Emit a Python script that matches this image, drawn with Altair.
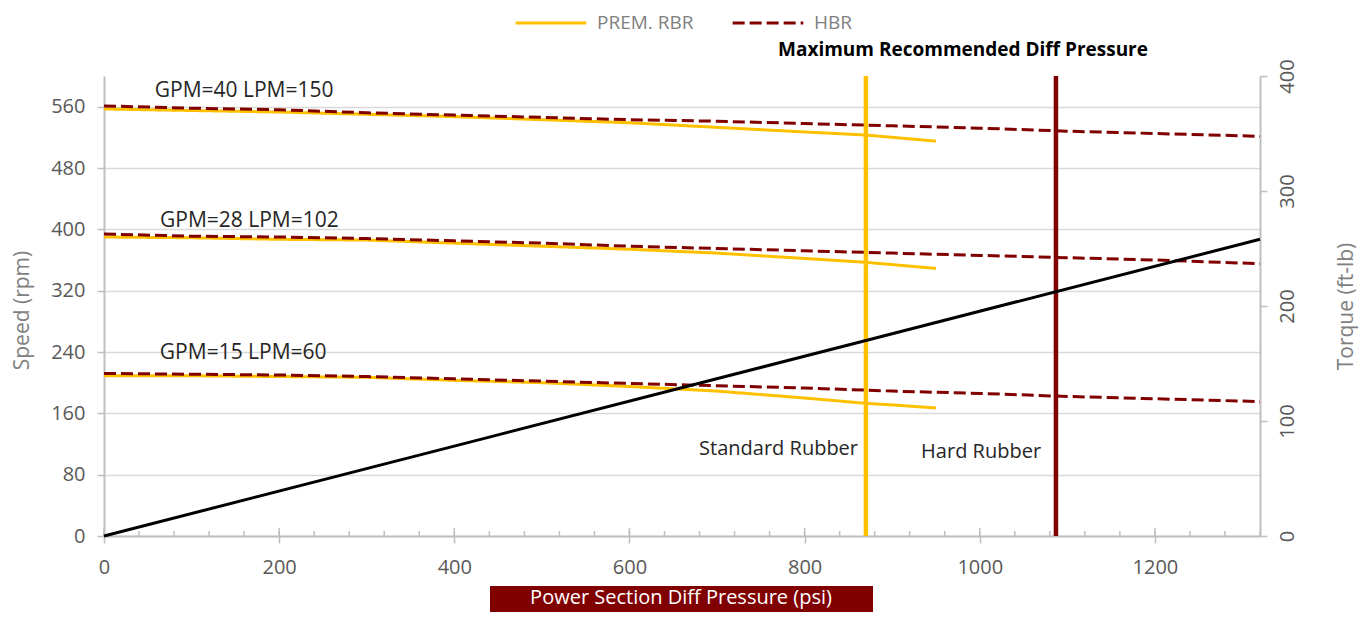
import altair as alt
import pandas as pd

# ---------------- data ----------------
x_ticks = [0, 200, 400, 600, 800, 1000, 1200]
speed_ticks = [0, 80, 160, 240, 320, 400, 480, 560]
torque_ticks = [0, 100, 200, 300, 400]
minor_ticks = list(range(0, 1321, 40))

pressure_hbr = [0, 100, 200, 300, 400, 500, 600, 700, 800, 900, 1000, 1100, 1200, 1300, 1320]
hbr_40 = [561, 558, 556, 552, 549, 546, 543, 541, 538, 535, 532, 528, 525, 522, 521]
hbr_28 = [394, 391, 390, 388, 385, 382, 378, 375, 372, 369, 366, 363, 360, 356, 355]
hbr_15 = [212, 211, 210, 208, 205, 202, 199, 196, 193, 189, 186, 182, 179, 176, 175]

pressure_prem = [0, 100, 200, 300, 400, 500, 600, 700, 800, 870, 900, 950]
prem_40 = [557, 555, 553, 550, 547, 543, 539, 533, 527, 523, 520, 515]
prem_28 = [390, 389, 387, 386, 382, 378, 374, 369, 362, 357, 354, 349]
prem_15 = [209, 209, 208, 207, 203, 200, 195, 189, 180, 173, 171, 167]

pressure_torque = [0, 440, 880, 1320]
torque_vals = [0, 86, 172, 258]

flow_labels = ["GPM=40 LPM=150", "GPM=28 LPM=102", "GPM=15 LPM=60"]
flow_label_x = [160, 166, 159]
flow_label_y = [580, 411, 239]

max_standard = 870
max_hard = 1087
rubber_labels = ["Standard Rubber", "Hard Rubber"]
rubber_label_x = [861, 1070]
rubber_label_y = [113, 110]

series_names = ["PREM. RBR", "HBR"]

# ---------------- tables ----------------
rows = []
for flow, vals in zip(flow_labels, [prem_40, prem_28, prem_15]):
    for p, s in zip(pressure_prem, vals):
        rows.append({"pressure": p, "speed": s, "type": "PREM. RBR", "flow": flow})
for flow, vals in zip(flow_labels, [hbr_40, hbr_28, hbr_15]):
    for p, s in zip(pressure_hbr, vals):
        rows.append({"pressure": p, "speed": s, "type": "HBR", "flow": flow})
curves_df = pd.DataFrame(rows)

torque_df = pd.DataFrame({"pressure": pressure_torque, "torque": torque_vals})
flow_df = pd.DataFrame({"pressure": flow_label_x, "speed": flow_label_y, "label": flow_labels})
rubber_df = pd.DataFrame({"pressure": rubber_label_x, "speed": rubber_label_y, "label": rubber_labels})
minor_df = pd.DataFrame({"pressure": minor_ticks})
major_df = pd.DataFrame({"pressure": x_ticks})
std_df = pd.DataFrame({"pressure": [max_standard]})
hard_df = pd.DataFrame({"pressure": [max_hard]})
one_df = pd.DataFrame({"t": ["Power Section Diff Pressure (psi)"], "m": ["Maximum Recommended Diff Pressure"]})

# ---------------- styling ----------------
W, H = 1156, 460
FONT = "Open Sans"
GOLD = "#FFC000"
DRED = "#800000"
AXC = "#bfbfbf"
LBL = "#595959"

x_scale = alt.Scale(domain=[0, 1320], nice=False)
speed_scale = alt.Scale(domain=[0, 600], nice=False)
torque_scale = alt.Scale(domain=[0, 400], nice=False)

x_axis = alt.Axis(values=x_ticks, format="d", title=None, grid=False, domainColor=AXC, domainWidth=2,
                  tickColor=AXC, tickSize=7, tickWidth=1.5, labelFontSize=20, labelColor=LBL,
                  labelFont=FONT, labelPadding=14, labelOverlap=False, labelFlush=False)
speed_axis = alt.Axis(values=speed_ticks, format="d", title="Speed (rpm)", grid=True, gridColor="#d9d9d9",
                      gridWidth=1.5, domainColor=AXC, domainWidth=2, tickColor=AXC, tickSize=7,
                      tickWidth=1.5, labelFontSize=20, labelColor=LBL, labelFont=FONT,
                      labelPadding=12, labelOverlap=False, labelFlush=False, titleFont=FONT,
                      titleFontSize=21, titleFontWeight="normal", titleColor="#7f7f7f",
                      titleX=-82, titleY=234, titleAngle=270, titleAlign="center",
                      titleBaseline="middle")
torque_axis = alt.Axis(orient="right", values=torque_ticks, format="d", title="Torque (ft-lb)", grid=False,
                       domainColor=AXC, domainWidth=2, tickColor=AXC, tickSize=7, tickWidth=1.5,
                       labelFontSize=20, labelColor=LBL, labelFont=FONT, labelAngle=270,
                       labelAlign="center", labelBaseline="top", labelPadding=10,
                       labelOverlap=False, labelFlush=False, titleFont=FONT, titleFontSize=21,
                       titleFontWeight="normal", titleColor="#7f7f7f", titleX=86, titleY=230,
                       titleAngle=270, titleAlign="center", titleBaseline="middle")

X = alt.X("pressure:Q", scale=x_scale, axis=x_axis)
Y = alt.Y("speed:Q", scale=speed_scale, axis=speed_axis)

legend = alt.Legend(title=None, orient="none", legendX=410, legendY=-90,
                    direction="horizontal", symbolType="stroke",
                    symbolSize=5000, symbolStrokeWidth=3, labelFont=FONT,
                    labelFontSize=19, labelColor="#7f7f7f", labelOffset=9,
                    columnPadding=32)

minor = alt.Chart(minor_df).mark_rule(color=AXC, strokeWidth=1.5).encode(
    x=X, y=alt.value(H - 5), y2=alt.value(H))
major = alt.Chart(major_df).mark_rule(color=AXC, strokeWidth=1.5).encode(
    x=X, y=alt.value(H - 8), y2=alt.value(H))

std_rule = alt.Chart(std_df).mark_rule(color=GOLD, strokeWidth=4.5).encode(x=X)
hard_rule = alt.Chart(hard_df).mark_rule(color=DRED, strokeWidth=4.5).encode(x=X)

curves = alt.Chart(curves_df).mark_line(strokeWidth=3).encode(
    x=X,
    y=Y,
    color=alt.Color("type:N", scale=alt.Scale(domain=series_names, range=[GOLD, DRED]),
                    legend=legend),
    strokeDash=alt.StrokeDash("type:N", scale=alt.Scale(domain=series_names, range=[[1, 0], [12, 5]]),
                              legend=legend),
    detail="flow:N",
    order=alt.Order("pressure:Q"),
)

flow_text = alt.Chart(flow_df).mark_text(font=FONT, fontSize=21, color="#262626").encode(
    x=X, y=Y, text="label:N")
rubber_text = alt.Chart(rubber_df).mark_text(font=FONT, fontSize=20, color="#262626", align="right").encode(
    x=X, y=Y, text="label:N")

max_text = alt.Chart(one_df).mark_text(font=FONT, fontSize=19, fontWeight="bold", color="black").encode(
    x=alt.value(859), y=alt.value(-26), text="m:N")

title_box = alt.Chart(one_df).mark_rect(color=DRED).encode(
    x=alt.value(386), x2=alt.value(769), y=alt.value(510), y2=alt.value(546))
title_text = alt.Chart(one_df).mark_text(font=FONT, fontSize=20, color="white").encode(
    x=alt.value(577), y=alt.value(522), text="t:N")

speed_layer = alt.layer(minor, major, std_rule, hard_rule, curves, flow_text, rubber_text,
                        max_text, title_box, title_text)

torque_layer = alt.Chart(torque_df).mark_line(color="black", strokeWidth=3).encode(
    x=X, y=alt.Y("torque:Q", scale=torque_scale, axis=torque_axis))

chart = alt.layer(speed_layer, torque_layer).resolve_scale(y="independent").properties(
    width=W, height=H,
    autosize=alt.AutoSizeParams(type="none"),
    padding={"left": 96, "top": 68, "right": 101, "bottom": 76},
    background="white",
).configure_view(stroke=None)

chart.save("out.html", embed_options={"renderer": "svg", "actions": False})
